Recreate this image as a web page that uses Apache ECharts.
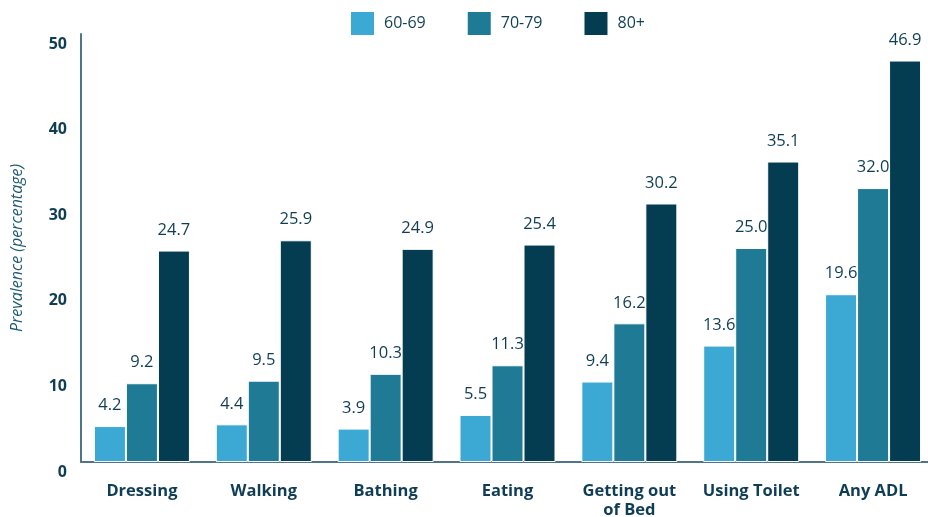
<!DOCTYPE html>
<html>
<head>
<meta charset="utf-8">
<script src="https://cdn.jsdelivr.net/npm/echarts@6/dist/echarts.min.js"></script>
<style>
  html, body { margin: 0; padding: 0; background: #fff; }
  #chart { width: 928px; height: 517px; }
</style>
</head>
<body>
<div id="chart"></div>
<script>
// Activities of daily living, prevalence of difficulty by age group
const categories = ['Dressing', 'Walking', 'Bathing', 'Eating', 'Getting out\nof Bed', 'Using Toilet', 'Any ADL'];
const age60to69 = [4.2, 4.4, 3.9, 5.5, 9.4, 13.6, 19.6];
const age70to79 = [9.2, 9.5, 10.3, 11.3, 16.2, 25.0, 32.0];
const age80plus = [24.7, 25.9, 24.9, 25.4, 30.2, 35.1, 46.9];
const seriesNames = ['60-69', '70-79', '80+'];
const yTicks = [0, 10, 20, 30, 40, 50];

const colors = ['#3ba9d3', '#1f7b95', '#043d52'];
const textColor = '#0e3d55';
const fontFamily = '"Open Sans", "Noto Sans", sans-serif';

const chart = echarts.init(document.getElementById('chart'), null, { renderer: 'canvas' });

function barSeries(name, data, color) {
  return {
    name: name,
    type: 'bar',
    data: data,
    barWidth: 32,
    barGap: '0%',
    itemStyle: { color: color, borderColor: '#ffffff', borderWidth: 1 },
    label: {
      show: true,
      position: 'top',
      distance: 12,
      color: textColor,
      fontFamily: fontFamily,
      fontSize: 16.5,
      formatter: p => p.value.toFixed(1)
    }
  };
}

chart.setOption({
  animation: false,
  color: colors,
  textStyle: { fontFamily: fontFamily },
  legend: {
    top: 5,
    left: 344,
    itemWidth: 25,
    itemHeight: 25,
    itemGap: 40,
    icon: 'rect',
    data: seriesNames,
    textStyle: { color: textColor, fontSize: 16, fontFamily: fontFamily, padding: [0, 0, 0, 4] }
  },
  grid: { left: 81, right: -6, top: 34, bottom: 55, containLabel: false, outerBoundsMode: 'none' },
  xAxis: {
    type: 'category',
    data: categories,
    axisLine: { show: true, lineStyle: { color: '#4f7587', width: 2 } },
    axisTick: { show: false },
    axisLabel: {
      interval: 0,
      color: textColor,
      fontWeight: 'bold',
      fontSize: 16.5,
      lineHeight: 19,
      margin: 20,
      fontFamily: fontFamily,
      verticalAlign: 'top'
    }
  },
  yAxis: {
    type: 'value',
    min: yTicks[0],
    max: yTicks[yTicks.length - 1],
    interval: 10,
    name: 'Prevalence (percentage)',
    nameLocation: 'middle',
    nameGap: 56,
    nameTextStyle: { color: '#1d5a75', fontStyle: 'italic', fontSize: 16, fontFamily: fontFamily },
    axisLine: { show: true, lineStyle: { color: '#4f7587', width: 2 } },
    axisTick: { show: false },
    splitLine: { show: false },
    axisLabel: {
      color: textColor,
      fontWeight: 'bold',
      fontSize: 16,
      margin: 14,
      lineHeight: 20,
      fontFamily: fontFamily,
      verticalAlign: 'top'
    }
  },
  series: [
    barSeries(seriesNames[0], age60to69, colors[0]),
    barSeries(seriesNames[1], age70to79, colors[1]),
    barSeries(seriesNames[2], age80plus, colors[2])
  ]
});
</script>
</body>
</html>
